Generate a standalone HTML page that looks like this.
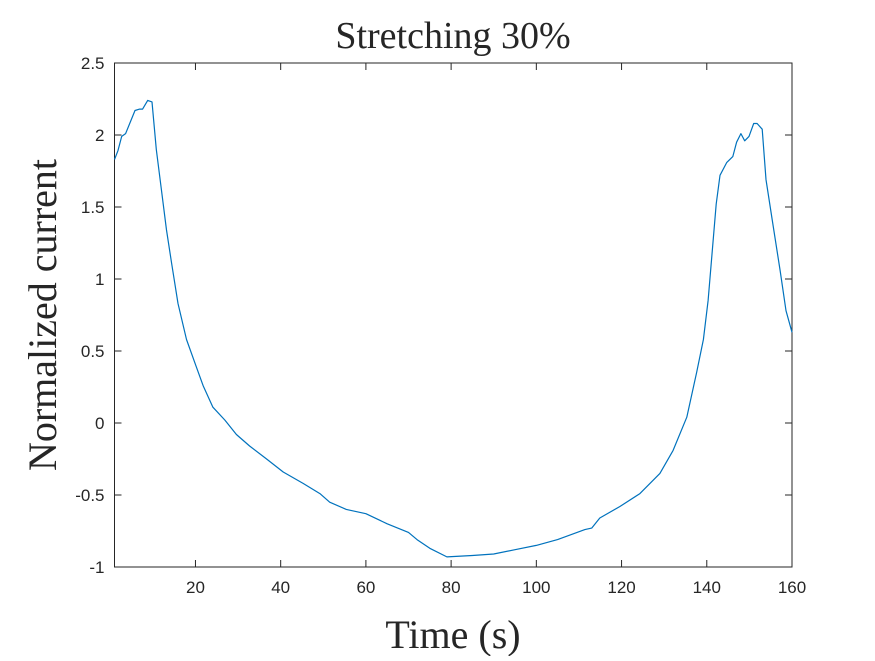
<!DOCTYPE html>
<html><head><meta charset="utf-8"><style>
body{margin:0;background:#fff}
svg text{fill:#262626}
</style></head><body>
<svg width="875" height="656" xmlns="http://www.w3.org/2000/svg">
<rect width="875" height="656" fill="#fff"/>
<g id="plot"></g>
<text x="453" y="48" text-anchor="middle" font-family="Liberation Serif, serif" font-size="38">Stretching 30%</text>
<text x="453" y="648" text-anchor="middle" font-family="Liberation Serif, serif" font-size="40">Time (s)</text>
<text transform="translate(56,315) rotate(-90)" text-anchor="middle" font-family="Liberation Serif, serif" font-size="40">Normalized current</text>
</svg>
<script>
const xTicks=[20,40,60,80,100,120,140,160];
const yTicks=[-1,-0.5,0,0.5,1,1.5,2,2.5];
const yTickLabels=['-1','-0.5','0','0.5','1','1.5','2','2.5'];
const times=[1,1.8,2.7,3.6,5.8,6.9,7.6,8.8,9.8,10.8,12,13.2,14.4,15.9,17.9,20.2,21.8,24.1,26.9,29.6,32.7,36.7,40.6,45.3,49.2,51.5,55.4,60,65,70,72,75,79,85,90,95,100,105,111.4,113,114.9,119.6,124.3,129,132.1,135.3,137.6,139.2,140.3,142.2,143.1,144.7,146.1,147,148,148.9,149.9,151,151.8,153,153.9,155.3,157.2,158.6,160];
const current=[1.83,1.89,1.99,2.01,2.17,2.18,2.18,2.24,2.23,1.9,1.62,1.34,1.11,0.83,0.58,0.39,0.26,0.11,0.02,-0.08,-0.16,-0.25,-0.34,-0.42,-0.49,-0.55,-0.6,-0.63,-0.7,-0.76,-0.81,-0.87,-0.93,-0.92,-0.91,-0.88,-0.85,-0.81,-0.74,-0.73,-0.66,-0.58,-0.49,-0.35,-0.19,0.04,0.35,0.58,0.85,1.52,1.72,1.81,1.85,1.95,2.01,1.96,1.99,2.08,2.08,2.04,1.69,1.42,1.06,0.78,0.63];
const L=114.5,R=792,T=63,B=567,x0=1,x1=160,y0=-1,y1=2.5;
const sx=v=>L+(v-x0)/(x1-x0)*(R-L);
const sy=v=>B-(v-y0)/(y1-y0)*(B-T);
const NS='http://www.w3.org/2000/svg';
const g=document.getElementById('plot');
function mk(t,a){const e=document.createElementNS(NS,t);for(const k in a)e.setAttribute(k,a[k]);g.appendChild(e);return e;}
const box=mk('rect',{x:L,y:T,width:R-L,height:B-T,fill:'none',stroke:'#262626','stroke-width':1});


xTicks.forEach(v=>{const x=sx(v);
 const t1=mk('line',{x1:x,x2:x,y1:B,y2:B-7,stroke:'#262626'});
 
 
 const t2=mk('line',{x1:x,x2:x,y1:T,y2:T+7,stroke:'#262626'});
 
 
 const tx=mk('text',{x:x,y:B+26,'text-anchor':'middle','font-family':'Liberation Sans, sans-serif','font-size':17});
 tx.textContent=v;
 
 
});
yTicks.forEach((v,i)=>{const y=sy(v);
 const t1=mk('line',{x1:L,x2:L+7,y1:y,y2:y,stroke:'#262626'});
 
 
 const t2=mk('line',{x1:R,x2:R-7,y1:y,y2:y,stroke:'#262626'});
 
 
 const tx=mk('text',{x:L-10,y:y+6,'text-anchor':'end','font-family':'Liberation Sans, sans-serif','font-size':17});
 tx.textContent=yTickLabels[i];
 
 
});
const d=times.map((t,i)=>(i?'L':'M')+sx(t).toFixed(1)+','+sy(current[i]).toFixed(1)).join('');
const p=mk('path',{d:d,fill:'none',stroke:'#0072BD','stroke-width':1.2,'stroke-linejoin':'round'});


</script>
</body></html>
